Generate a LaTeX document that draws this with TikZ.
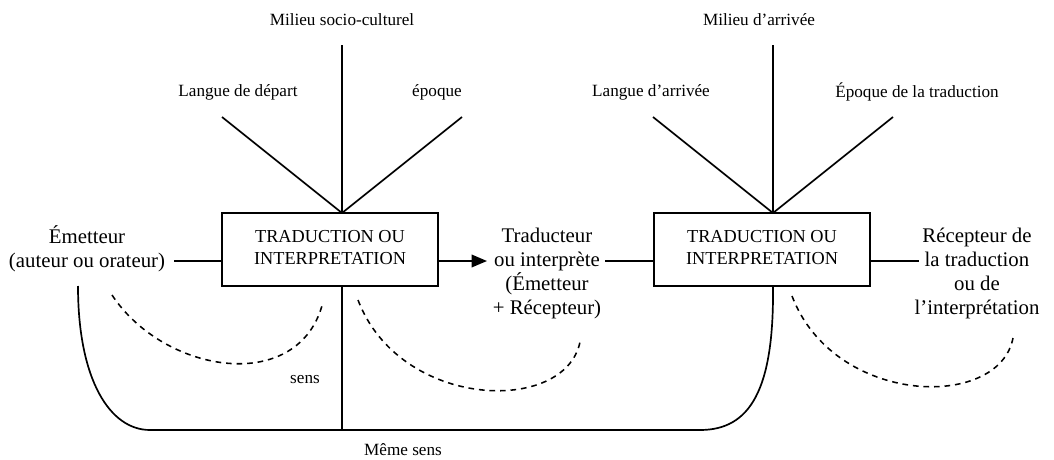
\documentclass[tikz,border=0pt]{standalone}
\usepackage{fontspec}
\setmainfont{Liberation Serif}
\usetikzlibrary{arrows.meta}

\begin{document}
\begin{tikzpicture}
        [%%%%%%%%%%%%%%%%%%%%%%%%%%%%%%
            x=0.025cm, y=-0.025cm,
            trait/.style={line width=1.2pt},
            pointille/.style={line width=1.1pt, dash pattern=on 4pt off 3.5pt},
            boite/.style={draw, line width=1.2pt, minimum width=5.4cm, minimum height=1.825cm, inner sep=0pt, align=center, font=\fontsize{13}{15.8}\selectfont},
            txt/.style={align=center, inner sep=0pt, font=\fontsize{14.8}{17.2}\selectfont},
            lbl/.style={inner sep=0pt, font=\fontsize{12.2}{14}\selectfont},
        ]%%%%%%%%%%%%%%%%%%%%%%%%%%%%%%

        \useasboundingbox (0,0) rectangle (1054,460);

        \node[boite] (box1) at (330,249.5) {TRADUCTION OU\\INTERPRETATION\vphantom{p}};
        \node[boite] (box2) at (762,249.5) {TRADUCTION OU\\INTERPRETATION\vphantom{p}};

        \node[txt] (emet) at (87,249) {Émetteur\\(auteur ou orateur)};
        \node[txt] (trad) at (547,273.5) {Traducteur\\ou interprète\\(Émetteur\\+ Récepteur)};
        \node[txt] (recep) at (977,273.5) {Récepteur de\\la traduction\\ou de\\l’interprétation};

        \node[lbl] (milieu1) at (342,20) {Milieu socio-culturel};
        \node[lbl] (langue1) at (238,92) {Langue de départ};
        \node[lbl] (epoque1) at (437,92) {époque};
        \node[lbl] (milieu2) at (759,20) {Milieu d’arrivée};
        \node[lbl] (langue2) at (651,92) {Langue d’arrivée};
        \node[lbl] (epoque2) at (917,92) {Époque de la traduction};
        \node[lbl] (sens) at (305,380) {sens};
        \node[lbl] (meme) at (403,450) {Même sens};

        % fans above the boxes
        \coordinate (sommet1) at (342,213);
        \coordinate (sommet2) at (773,213);
        \foreach \s in {sommet1,sommet2}{
            \foreach \dx/\dy in {-120/-96, 0/-168, 120/-96}{
                \draw[trait] (\s) -- ++(\dx,\dy);
            }
        }

        % horizontal chain
        \coordinate (e1) at (174,261);
        \coordinate (t1) at (487,261);
        \coordinate (t2) at (605,261);
        \coordinate (r1) at (919,261);
        \draw[trait] (e1) -- (e1 -| box1.west);
        \draw[trait,-{Triangle[length=11pt,width=9pt]}] (t1 -| box1.east) -- (t1);
        \draw[trait] (t2) -- (t2 -| box2.west);
        \draw[trait] (r1 -| box2.east) -- (r1);

        % sens and meme sens
        \draw[trait] (sommet1 |- box1.south) -- ++(0,144);
        \draw[trait] (78,286) .. controls (78,380) and (110,430) .. (150,430) -- (700,430) .. controls (750,430) and (774,390) .. (sommet2 |- box2.south);

        \draw[pointille] (112,295) .. controls (165,375) and (300,395) .. (323,302);
        \draw[pointille] (358,300) .. controls (400,410) and (565,415) .. (580,342);
        \draw[pointille] (792,296) .. controls (834,406) and (999,411) .. (1013,338);
    \end{tikzpicture}
\end{document}
